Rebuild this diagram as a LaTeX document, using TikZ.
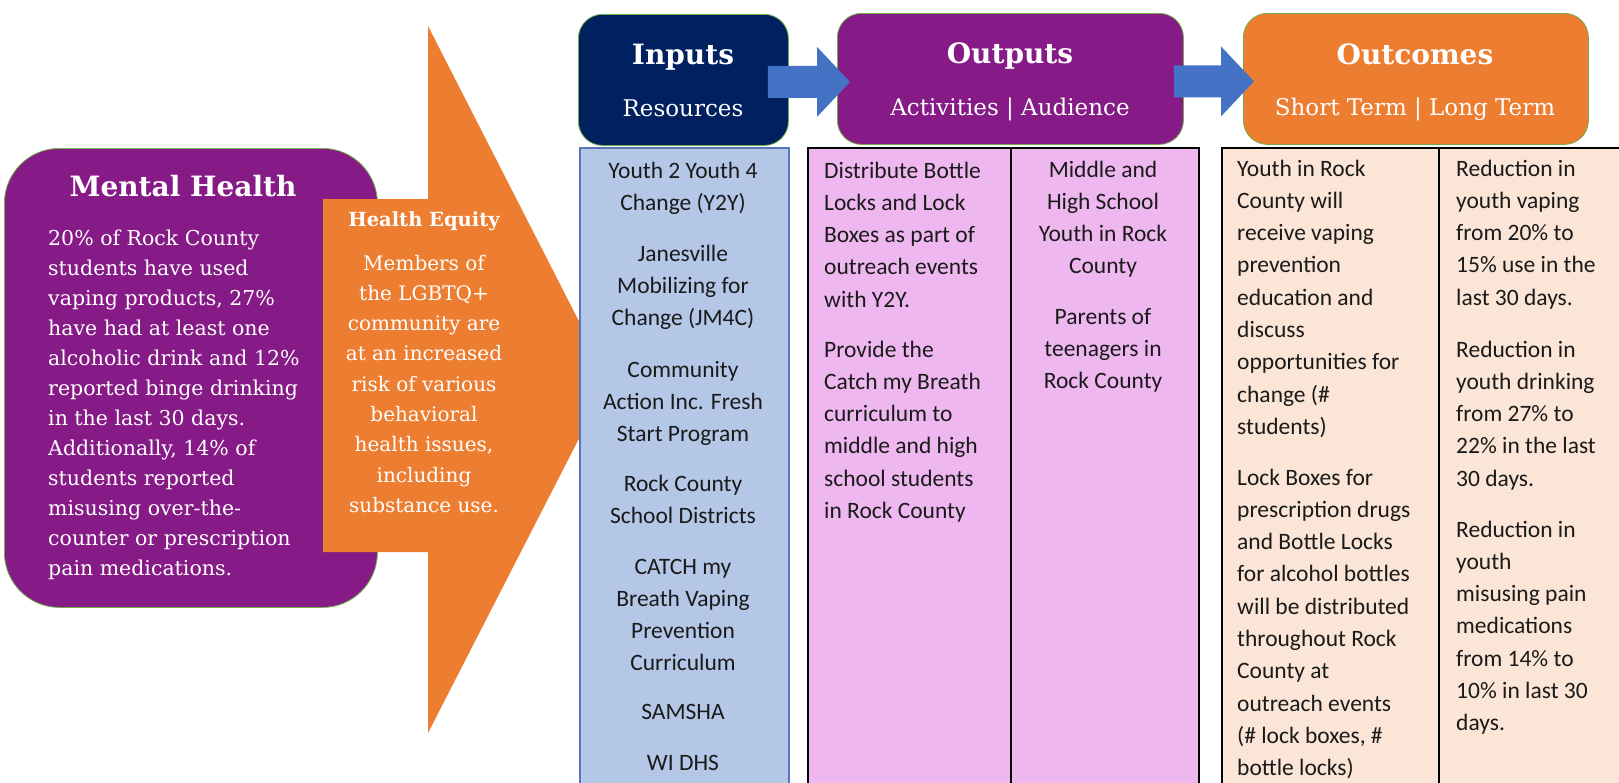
\documentclass[tikz,border=0pt]{standalone}
\usepackage{fontspec}
\setmainfont{DejaVu Serif}
\newfontfamily\calfont{Carlito}
\usetikzlibrary{calc}
\definecolor{mhpurple}{HTML}{861B87}
\definecolor{eqorange}{HTML}{ED7D31}
\definecolor{navyblue}{HTML}{002060}
\definecolor{arrowblue}{HTML}{4472C4}
\definecolor{inblue}{HTML}{B4C7E7}
\definecolor{inborder}{HTML}{5679B5}
\definecolor{outpink}{HTML}{EFB7EF}
\definecolor{peach}{HTML}{FBE5D6}
\definecolor{hdrgreen}{HTML}{70AD47}
\definecolor{bodytext}{HTML}{1A1A1A}
\newcommand\blockarrow[2]{%
  \fill[arrowblue] let \p1=(#1), \p2=(#2) in
    (\x1,\y1+16pt) -- (\x2-33pt,\y1+16pt) -- (\x2-33pt,\y1+35pt) -- (\x2,\y1)
    -- (\x2-33pt,\y1-35pt) -- (\x2-33pt,\y1-16pt) -- (\x1,\y1-16pt) -- cycle;}
\tikzset{
  hdrbox/.style={draw=hdrgreen, line width=0.8pt, rounded corners=24pt, anchor=north west, inner sep=0pt},
  colbox/.style={anchor=north west, inner sep=0pt, line width=1.6pt},
  hdrtitle/.style={text=white, font=\fontsize{28}{34}\selectfont\bfseries, anchor=base, inner sep=0pt},
  hdrsub/.style={text=white, font=\fontsize{23}{28}\selectfont, anchor=base, inner sep=0pt},
  coltext/.style={text=bodytext, font=\calfont\fontsize{23.5}{32.3}\selectfont, inner sep=0pt},
  ctrtext/.style={coltext, align=center, anchor=base},
  lefttext/.style={coltext, align=left, anchor=base west},
  serifbody/.style={text=white, font=\fontsize{20.5}{30}\selectfont, inner sep=0pt, anchor=base},
}
\begin{document}
\begin{tikzpicture}[x=1pt,y=-1pt]
\useasboundingbox (0,0) rectangle (1619,782);
\clip (0,0) rectangle (1619,782);
\fill[white] (0,0) rectangle (1619,782);

% Mental Health box (text nodes are anchored at the baseline of their last line)
\node[draw=hdrgreen, line width=0.8pt, fill=mhpurple, rounded corners=55pt, minimum width=373pt,
      minimum height=459pt, anchor=north west, inner sep=0pt] (mh) at (4,148) {};
\node[text=white, font=\fontsize{28}{34}\selectfont\bfseries, anchor=base, inner sep=0pt] (mhtitle) at (183,196) {Mental Health};
\node[serifbody, align=left, anchor=base west] (mhbody) at (48,575) {20\% of Rock County\\students have used\\vaping products, 27\%\\have had at least one\\alcoholic drink and 12\%\\reported binge drinking\\in the last 30 days.\\Additionally, 14\% of\\students reported\\misusing over-the-\\counter or prescription\\pain medications.};

% Health Equity arrow
\fill[eqorange] (323,199) -- (428,199) -- (428,26) -- (609,380) -- (428,733) -- (428,552) -- (323,552) -- cycle;
\node[text=white, font=\fontsize{19.5}{24}\selectfont\bfseries, anchor=base, inner sep=0pt] (eqtitle) at (424,226) {Health Equity};
\node[serifbody, font=\fontsize{20}{30.3}\selectfont, align=center] (eqbody) at (424,512.4) {Members of\\the LGBTQ+\\community are\\at an increased\\risk of various\\behavioral\\health issues,\\including\\substance use.};

% Header boxes
\node[hdrbox, fill=navyblue, minimum width=210pt, minimum height=131pt] (inputs) at (578,14) {};
\node[hdrbox, fill=mhpurple, minimum width=346pt, minimum height=131pt] (outputs) at (837,13) {};
\node[hdrbox, fill=eqorange, minimum width=345pt, minimum height=131pt] (outcomes) at (1243,13) {};

\node[hdrtitle] (intitle) at (683,64) {Inputs};
\node[hdrsub] (insub) at (683,116) {Resources};
\node[hdrtitle] (outtitle) at (1010,63) {Outputs};
\node[hdrsub] (outsub) at (1010,115) {Activities | Audience};
\node[hdrtitle] (octitle) at (1415,64) {Outcomes};
\node[hdrsub] (ocsub) at (1415,115) {Short Term | Long Term};

% Block arrows between headers
\coordinate (a1tail) at ($(inputs.east)+(-21,2)$);
\coordinate (a1tip) at ($(outputs.west)+(13,3)$);
\coordinate (a2tail) at ($(outputs.east)+(-10,2.5)$);
\coordinate (a2tip) at ($(outcomes.west)+(11,2.5)$);
\blockarrow{a1tail}{a1tip}
\blockarrow{a2tail}{a2tip}

% Columns
\node[colbox, draw=inborder, fill=inblue, minimum width=209pt, minimum height=660pt] (incol) at (579,147) {};
\node[colbox, draw=black, fill=outpink, minimum width=203pt, minimum height=660pt] (actcol) at (807,147) {};
\node[colbox, draw=black, fill=outpink, minimum width=188pt, minimum height=660pt] (audcol) at (1010,147) {};
\node[colbox, draw=black, fill=peach, minimum width=217pt, minimum height=660pt] (stcol) at (1221,147) {};
\node[colbox, draw=black, fill=peach, minimum width=200pt, minimum height=660pt] (ltcol) at (1438,147) {};

% Inputs text
\node[ctrtext] (in1) at (683,210.3) {Youth 2 Youth 4\\Change (Y2Y)};
\node[ctrtext] (in2) at (683,325.6) {Janesville\\Mobilizing for\\Change (JM4C)};
\node[ctrtext] (in3) at (683,441.6) {Community\\Action Inc. Fresh\\Start Program};
\node[ctrtext] (in4) at (683,523.3) {Rock County\\School Districts};
\node[ctrtext] (in5) at (683,670.9) {CATCH my\\Breath Vaping\\Prevention\\Curriculum};
\node[ctrtext] (in6) at (683,719) {SAMSHA};
\node[ctrtext] (in7) at (683,770) {WI DHS};

% Outputs text
\node[lefttext] (act1) at (824,307.2) {Distribute Bottle\\Locks and Lock\\Boxes as part of\\outreach events\\with Y2Y.};
\node[lefttext] (act2) at (824,518.5) {Provide the\\Catch my Breath\\curriculum to\\middle and high\\school students\\in Rock County};
\node[ctrtext] (aud1) at (1103,273.9) {Middle and\\High School\\Youth in Rock\\County};
\node[ctrtext] (aud2) at (1103,388.6) {Parents of\\teenagers in\\Rock County};

% Outcomes text
\node[lefttext] (st1) at (1237,434.4) {Youth in Rock\\County will\\receive vaping\\prevention\\education and\\discuss\\opportunities for\\change (\#\\students)};
\node[lefttext] (st2) at (1237,775.7) {Lock Boxes for\\prescription drugs\\and Bottle Locks\\for alcohol bottles\\will be distributed\\throughout Rock\\County at\\outreach events\\(\# lock boxes, \#\\bottle locks)};
\node[lefttext] (lt1) at (1456,305.2) {Reduction in\\youth vaping\\from 20\% to\\15\% use in the\\last 30 days.};
\node[lefttext] (lt2) at (1456,486.2) {Reduction in\\youth drinking\\from 27\% to\\22\% in the last\\30 days.};
\node[lefttext] (lt3) at (1456,730.8) {Reduction in\\youth\\misusing pain\\medications\\from 14\% to\\10\% in last 30\\days.};
\end{tikzpicture}
\end{document}
